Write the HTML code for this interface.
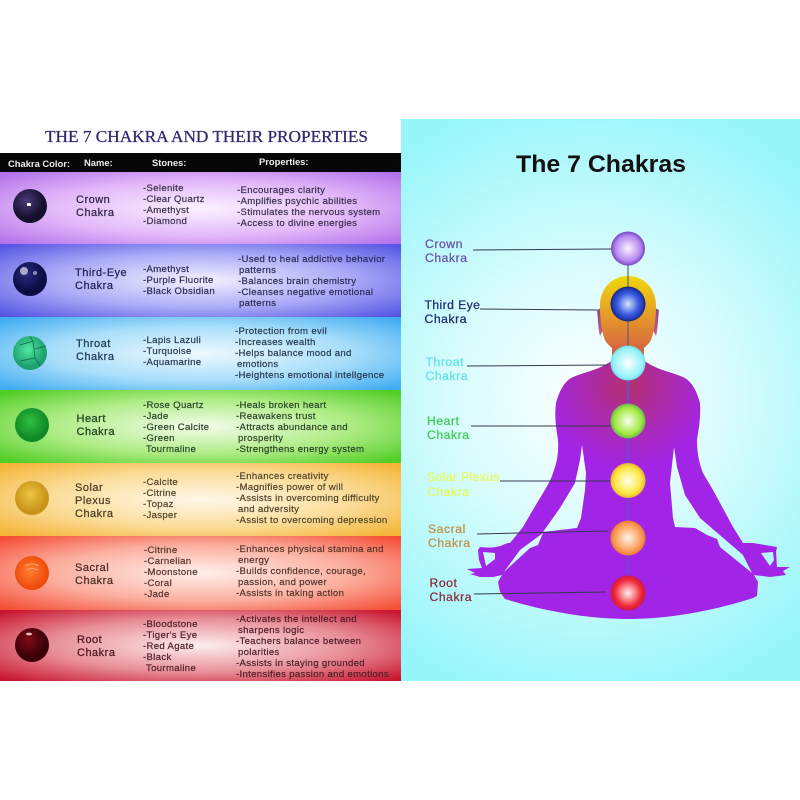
<!DOCTYPE html>
<html><head><meta charset="utf-8"><style>
html,body{margin:0;padding:0;background:#fff}
svg{display:block}
text{font-family:"Liberation Sans",sans-serif}
.t{font-size:9.6px;letter-spacing:.32px}
.n{font-size:11px;letter-spacing:.5px}
.h{font-size:9.4px;font-weight:bold;fill:#eee}
.l{font-size:12.2px;letter-spacing:.55px}
</style></head><body>
<svg width="800" height="800" viewBox="0 0 800 800" xmlns="http://www.w3.org/2000/svg">
<defs>
<radialGradient id="bg" gradientUnits="userSpaceOnUse" cx="590" cy="400" r="310"><stop offset="0" stop-color="#fff"/><stop offset=".45" stop-color="#d8fcfd"/><stop offset="1" stop-color="#97f6fa"/></radialGradient>
<radialGradient id="r1" cx=".5" cy=".5" r=".68"><stop offset="0" stop-color="#fbf2ff"/><stop offset=".55" stop-color="#e2b8f9"/><stop offset="1" stop-color="#b272ea"/></radialGradient>
<radialGradient id="r2" cx=".5" cy=".5" r=".68"><stop offset="0" stop-color="#f4f2ff"/><stop offset=".55" stop-color="#aaaaf7"/><stop offset="1" stop-color="#5656e4"/></radialGradient>
<radialGradient id="r3" cx=".5" cy=".5" r=".68"><stop offset="0" stop-color="#eef9ff"/><stop offset=".55" stop-color="#a8defa"/><stop offset="1" stop-color="#40acf1"/></radialGradient>
<radialGradient id="r4" cx=".5" cy=".5" r=".68"><stop offset="0" stop-color="#f4fdec"/><stop offset=".55" stop-color="#aeec84"/><stop offset="1" stop-color="#50cc24"/></radialGradient>
<radialGradient id="r5" cx=".5" cy=".5" r=".68"><stop offset="0" stop-color="#fff8ea"/><stop offset=".55" stop-color="#fbdd9a"/><stop offset="1" stop-color="#f4b436"/></radialGradient>
<radialGradient id="r6" cx=".5" cy=".5" r=".68"><stop offset="0" stop-color="#fff0ec"/><stop offset=".55" stop-color="#fbaf9f"/><stop offset="1" stop-color="#f54e36"/></radialGradient>
<radialGradient id="r7" cx=".5" cy=".5" r=".68"><stop offset="0" stop-color="#fdeeee"/><stop offset=".55" stop-color="#e88f98"/><stop offset="1" stop-color="#c81630"/></radialGradient>
<radialGradient id="body" gradientUnits="userSpaceOnUse" cx="628" cy="385" r="85"><stop offset="0" stop-color="#b4306e"/><stop offset=".55" stop-color="#aa2ab4"/><stop offset="1" stop-color="#a224e6"/></radialGradient>
<linearGradient id="head" gradientUnits="userSpaceOnUse" x1="0" y1="276" x2="0" y2="365"><stop offset="0" stop-color="#f0d80a"/><stop offset=".45" stop-color="#e59a28"/><stop offset="1" stop-color="#cf4d4a"/></linearGradient>
<linearGradient id="ear" gradientUnits="userSpaceOnUse" x1="0" y1="310" x2="0" y2="336"><stop offset="0" stop-color="#8a4a80"/><stop offset="1" stop-color="#c85a90"/></linearGradient>
<radialGradient id="s1"><stop offset="0" stop-color="#fdf4ff"/><stop offset=".75" stop-color="#b487ee"/><stop offset="1" stop-color="#7a44c8"/></radialGradient>
<radialGradient id="s2"><stop offset="0" stop-color="#d8e4ff"/><stop offset=".6" stop-color="#3c5fe0"/><stop offset=".88" stop-color="#2238b8"/><stop offset="1" stop-color="#12285e"/></radialGradient>
<radialGradient id="s3"><stop offset="0" stop-color="#fff"/><stop offset=".85" stop-color="#90f2f8"/><stop offset="1" stop-color="#70d8e8"/></radialGradient>
<radialGradient id="s4"><stop offset="0" stop-color="#fbfff0"/><stop offset=".75" stop-color="#a0ea40"/><stop offset="1" stop-color="#70b850"/></radialGradient>
<radialGradient id="s5"><stop offset="0" stop-color="#fffff0"/><stop offset=".75" stop-color="#fbe840"/><stop offset="1" stop-color="#e8b830"/></radialGradient>
<radialGradient id="s6"><stop offset="0" stop-color="#fff4e8"/><stop offset=".75" stop-color="#fa9e58"/><stop offset="1" stop-color="#e87a3a"/></radialGradient>
<radialGradient id="s7"><stop offset="0" stop-color="#fff0f0"/><stop offset=".75" stop-color="#f02a38"/><stop offset="1" stop-color="#d01840"/></radialGradient>
<radialGradient id="b1" cx=".4" cy=".35"><stop offset="0" stop-color="#4c3a78"/><stop offset="1" stop-color="#14102e"/></radialGradient>
<radialGradient id="b2" cx=".4" cy=".35"><stop offset="0" stop-color="#2a2a80"/><stop offset="1" stop-color="#0c0c44"/></radialGradient>
<radialGradient id="b3" cx=".45" cy=".4"><stop offset="0" stop-color="#50e8a0"/><stop offset="1" stop-color="#1ea070"/></radialGradient>
<radialGradient id="b4" cx=".45" cy=".4"><stop offset="0" stop-color="#30c040"/><stop offset="1" stop-color="#0f8a28"/></radialGradient>
<radialGradient id="b5" cx=".45" cy=".4"><stop offset="0" stop-color="#eec440"/><stop offset="1" stop-color="#c89418"/></radialGradient>
<radialGradient id="b6" cx=".45" cy=".45"><stop offset="0" stop-color="#ff8030"/><stop offset="1" stop-color="#f04a0a"/></radialGradient>
<radialGradient id="b7" cx=".4" cy=".35"><stop offset="0" stop-color="#800a18"/><stop offset="1" stop-color="#3a0208"/></radialGradient>
</defs>

<rect width="800" height="800" fill="#fff"/>
<rect x="401" y="119" width="399" height="562" fill="url(#bg)"/>

<rect x="0" y="172" width="401" height="73" fill="url(#r1)"/>
<rect x="0" y="244" width="401" height="73" fill="url(#r2)"/>
<rect x="0" y="317" width="401" height="73" fill="url(#r3)"/>
<rect x="0" y="390" width="401" height="73" fill="url(#r4)"/>
<rect x="0" y="463" width="401" height="73" fill="url(#r5)"/>
<rect x="0" y="536" width="401" height="74" fill="url(#r6)"/>
<rect x="0" y="610" width="401" height="71" fill="url(#r7)"/>
<rect x="0" y="153" width="401" height="19" fill="#070707"/>

<text x="45" y="142" font-size="16.4" textLength="323" lengthAdjust="spacingAndGlyphs" style="font-family:'Liberation Serif',serif" fill="#2c2a70" stroke="#2c2a70" stroke-width=".25">THE 7 CHAKRA AND THEIR PROPERTIES</text>
<text class="h" x="8" y="167">Chakra Color:</text>
<text class="h" x="84" y="166">Name:</text>
<text class="h" x="152" y="166">Stones:</text>
<text class="h" x="259" y="165">Properties:</text>
<text x="516" y="172" font-size="24" fill="#111" textLength="170" lengthAdjust="spacingAndGlyphs" style="font-weight:bold">The 7 Chakras</text>

<!-- stones -->
<circle cx="30" cy="206" r="17" fill="url(#b1)"/><rect x="27" y="203" width="4" height="3" fill="#fff"/>
<circle cx="30" cy="279" r="17" fill="url(#b2)"/><ellipse cx="24" cy="271" rx="4" ry="4" fill="#a8a8c8"/><circle cx="35" cy="273" r="2" fill="#8888b0"/>
<circle cx="30" cy="353" r="17" fill="url(#b3)"/><path d="M20 345 L33 341 L35 358 L20 361 M33 341 L30 337 M35 358 L40 366 M35 349 L46 346" stroke="#127a50" stroke-width="1" fill="none"/>
<circle cx="32" cy="425" r="17" fill="url(#b4)"/>
<circle cx="32" cy="498" r="17" fill="url(#b5)"/>
<circle cx="32" cy="573" r="17" fill="url(#b6)"/><path d="M25 566 Q32 562 39 566 M26 570 Q32 567 38 570" stroke="#ffa070" fill="none"/>
<circle cx="32" cy="645" r="17" fill="url(#b7)"/><ellipse cx="29" cy="634" rx="3" ry="1.4" fill="#f0c0c0"/>

<!-- names -->
<g fill="#33264e" stroke="#33264e" stroke-width=".25"><text class="n" x="76" y="203">Crown</text><text class="n" x="76" y="216">Chakra</text></g>
<g fill="#24245a" stroke="#24245a" stroke-width=".25"><text class="n" x="75" y="276">Third-Eye</text><text class="n" x="75" y="289">Chakra</text></g>
<g fill="#203a56" stroke="#203a56" stroke-width=".25"><text class="n" x="76" y="347">Throat</text><text class="n" x="76" y="360">Chakra</text></g>
<g fill="#204420" stroke="#204420" stroke-width=".25"><text class="n" x="76.5" y="422">Heart</text><text class="n" x="76.5" y="435">Chakra</text></g>
<g fill="#4e3e24" stroke="#4e3e24" stroke-width=".25"><text class="n" x="75" y="491">Solar</text><text class="n" x="75" y="504">Plexus</text><text class="n" x="75" y="517">Chakra</text></g>
<g fill="#4e2e26" stroke="#4e2e26" stroke-width=".25"><text class="n" x="75" y="571">Sacral</text><text class="n" x="75" y="584">Chakra</text></g>
<g fill="#4e161e" stroke="#4e161e" stroke-width=".25"><text class="n" x="77" y="643">Root</text><text class="n" x="77" y="656">Chakra</text></g>

<!-- stones lists + properties -->
<g fill="#3a304c" stroke="#3a304c" stroke-width=".2">
<text class="t" x="143" y="191">-Selenite</text><text class="t" x="143" y="202">-Clear Quartz</text><text class="t" x="143" y="213">-Amethyst</text><text class="t" x="143" y="224">-Diamond</text>
<text class="t" x="237" y="193">-Encourages clarity</text><text class="t" x="237" y="204">-Amplifies psychic abilities</text><text class="t" x="237" y="215">-Stimulates the nervous system</text><text class="t" x="237" y="226">-Access to divine energies</text>
</g>
<g fill="#2c2c58" stroke="#2c2c58" stroke-width=".2">
<text class="t" x="143" y="272">-Amethyst</text><text class="t" x="143" y="283">-Purple Fluorite</text><text class="t" x="143" y="294">-Black Obsidian</text>
<text class="t" x="238" y="262">-Used to heal addictive behavior</text><text class="t" x="239" y="273">patterns</text><text class="t" x="238" y="284">-Balances brain chemistry</text><text class="t" x="238" y="295">-Cleanses negative emotional</text><text class="t" x="239" y="306">patterns</text>
</g>
<g fill="#263a52" stroke="#263a52" stroke-width=".2">
<text class="t" x="143" y="343">-Lapis Lazuli</text><text class="t" x="143" y="354">-Turquoise</text><text class="t" x="143" y="365">-Aquamarine</text>
<text class="t" x="235" y="334">-Protection from evil</text><text class="t" x="235" y="345">-Increases wealth</text><text class="t" x="235" y="356">-Helps balance mood and</text><text class="t" x="237" y="367">emotions</text><text class="t" x="235" y="378">-Heightens emotional intellgence</text>
</g>
<g fill="#2a4426" stroke="#2a4426" stroke-width=".2">
<text class="t" x="143" y="408">-Rose Quartz</text><text class="t" x="143" y="419">-Jade</text><text class="t" x="143" y="430">-Green Calcite</text><text class="t" x="143" y="441">-Green</text><text class="t" x="146" y="452">Tourmaline</text>
<text class="t" x="236" y="408">-Heals broken heart</text><text class="t" x="236" y="419">-Reawakens trust</text><text class="t" x="236" y="430">-Attracts abundance and</text><text class="t" x="238" y="441">prosperity</text><text class="t" x="236" y="452">-Strengthens energy system</text>
</g>
<g fill="#50442a" stroke="#50442a" stroke-width=".2">
<text class="t" x="143" y="485">-Calcite</text><text class="t" x="143" y="496">-Citrine</text><text class="t" x="143" y="507">-Topaz</text><text class="t" x="143" y="518">-Jasper</text>
<text class="t" x="236" y="479">-Enhances creativity</text><text class="t" x="236" y="490">-Magnifies power of will</text><text class="t" x="236" y="501">-Assists in overcoming difficulty</text><text class="t" x="238" y="512">and adversity</text><text class="t" x="236" y="523">-Assist to overcoming depression</text>
</g>
<g fill="#54342c" stroke="#54342c" stroke-width=".2">
<text class="t" x="144" y="553">-Citrine</text><text class="t" x="144" y="564">-Carnelian</text><text class="t" x="144" y="575">-Moonstone</text><text class="t" x="144" y="586">-Coral</text><text class="t" x="144" y="597">-Jade</text>
<text class="t" x="236" y="552">-Enhances physical stamina and</text><text class="t" x="238" y="563">energy</text><text class="t" x="236" y="574">-Builds confidence, courage,</text><text class="t" x="238" y="585">passion, and power</text><text class="t" x="236" y="596">-Assists in taking action</text>
</g>
<g fill="#4e1e26" stroke="#4e1e26" stroke-width=".2">
<text class="t" x="143" y="627">-Bloodstone</text><text class="t" x="143" y="638">-Tiger's Eye</text><text class="t" x="143" y="649">-Red Agate</text><text class="t" x="143" y="660">-Black</text><text class="t" x="146" y="671">Tourmaline</text>
<text class="t" x="236" y="622">-Activates the intellect and</text><text class="t" x="238" y="633">sharpens logic</text><text class="t" x="236" y="644">-Teachers balance between</text><text class="t" x="238" y="655">polarities</text><text class="t" x="236" y="666">-Assists in staying grounded</text><text class="t" x="236" y="677">-Intensifies passion and emotions</text>
</g>

<!-- silhouette -->
<path fill="url(#body)" fill-rule="evenodd" d="M628 352 L610 362 C598 370 585 372 573 377 C564 381 559 392 556 403 C554 420 557 432 558 440 C559 455 556 465 553 473 C551 480 545 490 537 503 C531 513 527 520 523 527 L510 543 C507 543 505 544 503 545 C495 548 488 548 480 547 L478 550 L479 560 L482 568 L467 569 L475 573 L470 574 L480 577 L493 577 L502 575 L498 582 L500 592 L505 599 C540 610 585 619 628 619 C671 619 716 610 753 598 L757 596 L758 582 L754 575 L770 577 L786 575 L783 571 L790 567 L777 567 L776 552 L777 547 L753 543 L743 543 L733 527 L713 490 L703 473 C700 465 697 455 697 440 C698 432 701 420 700 403 C697 392 692 381 683 377 C671 372 658 370 646 362 Z
M582 445 L586 473 L585 490 L581 518 L577 528 L560 530 L543 532 L560 508 L575 483 L580 460 Z
M543 533 L538 545 L530 548 L504 572 L520 550 Z
M483 552 L495 553 L495 559 L486 566 Z
M674 447 L670 483 L673 518 L675 527 L695 528 L707 535 L717 539 L720 547 L752 573 L743 555 L700 518 L685 495 L677 467 Z
M761 553 L773 552 L774 560 L770 566 Z"/>

<path d="M597 310 L601 308 L604 328 L600 336 C598 328 598 318 597 310 Z M659 310 L655 308 L652 328 L656 336 C658 328 658 318 659 310 Z" fill="url(#ear)"/>
<path d="M628 276 C610 276 600 291 600 305 C600 322 602 332 605 340 C607 344 610 346 612 348 L612 366 L644 366 L644 348 C646 346 649 344 651 340 C654 332 656 322 656 305 C656 291 646 276 628 276 Z" fill="url(#head)"/>

<line x1="628" y1="250" x2="628" y2="363" stroke="#5a5a70" stroke-width="1.1"/>
<line x1="628" y1="363" x2="628" y2="593" stroke="#6a4ad0" stroke-width="2.2"/>

<g stroke-width="1" fill="none" stroke="#333a50">
<line x1="473" y1="250" x2="612" y2="249"/>
<line x1="480" y1="309" x2="597" y2="310"/>
<line x1="467" y1="366" x2="608" y2="365"/>
<line x1="471" y1="426" x2="612" y2="426"/>
<line x1="500" y1="481" x2="612" y2="481"/>
<line x1="477" y1="534" x2="608" y2="531"/>
<line x1="474" y1="594" x2="606" y2="592"/>
</g>

<circle cx="628" cy="248.5" r="17" fill="url(#s1)"/>
<circle cx="628" cy="304" r="17.5" fill="url(#s2)"/>
<circle cx="628" cy="363" r="17.5" fill="url(#s3)"/>
<circle cx="628" cy="421" r="17.5" fill="url(#s4)"/>
<circle cx="628" cy="480.5" r="17.5" fill="url(#s5)"/>
<circle cx="628" cy="538" r="17.5" fill="url(#s6)"/>
<circle cx="628" cy="593" r="17.5" fill="url(#s7)"/>

<g fill="#6a4fa8" stroke="#6a4fa8" stroke-width=".25"><text class="l" x="425" y="248">Crown</text><text class="l" x="425" y="262">Chakra</text></g>
<g fill="#1d2a70" stroke="#1d2a70" stroke-width=".25"><text class="l" x="424.5" y="309" textLength="56">Third Eye</text><text class="l" x="424.5" y="323">Chakra</text></g>
<g fill="#62e0e8" stroke="#62e0e8" stroke-width=".25"><text class="l" x="425.5" y="366">Throat</text><text class="l" x="425.5" y="380">Chakra</text></g>
<g fill="#3ecb55" stroke="#3ecb55" stroke-width=".25"><text class="l" x="427" y="425">Heart</text><text class="l" x="427" y="439">Chakra</text></g>
<g fill="#e8fb55" stroke="#e8fb55" stroke-width=".25"><text class="l" x="427" y="481" textLength="73">Solar Plexus</text><text class="l" x="427" y="496">Chakra</text></g>
<g fill="#c09048" stroke="#c09048" stroke-width=".25"><text class="l" x="428" y="533">Sacral</text><text class="l" x="428" y="547">Chakra</text></g>
<g fill="#8a2a38" stroke="#8a2a38" stroke-width=".25"><text class="l" x="429.5" y="587">Root</text><text class="l" x="429.5" y="601">Chakra</text></g>
</svg>
</body></html>
